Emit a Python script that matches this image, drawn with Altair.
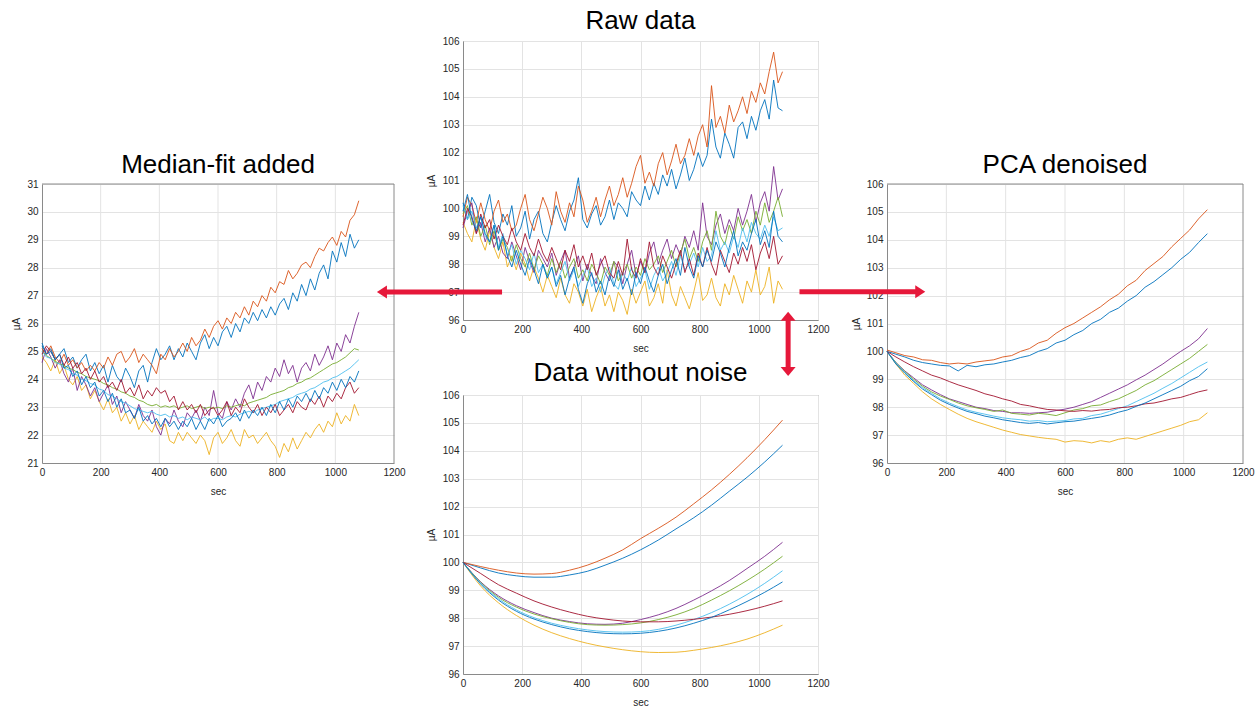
import altair as alt
import pandas as pd

SERIES = ["s1", "s2", "s3", "s4", "s5", "s6", "s7", "s8"]
COLORS = ["#0072BD", "#D95319", "#EDB120", "#7E2F8E", "#77AC30", "#4DBEEE", "#A2142F", "#0072BD"]
ARROW = "#E6183A"
BOX = "#8a8a8a"
GRID = "#e3e3e3"
X_TICKS = [0, 200, 400, 600, 800, 1000, 1200]
X_GRID = [200, 400, 600, 800, 1000]
Y_TICKS_UA = [96, 97, 98, 99, 100, 101, 102, 103, 104, 105, 106]
Y_TICKS_MED = [21, 22, 23, 24, 25, 26, 27, 28, 29, 30, 31]

# ---------------- Raw data (sampled every 15 s) ----------------
raw_s1 = [100.2, 99.6, 100.4, 100.1, 99.3, 99.9, 100.5, 99.5, 99.1, 99.8, 99.4, 100.1, 99.0, 99.3, 99.9, 98.9, 99.6, 99.9, 99.1, 98.8, 99.5, 100.1, 99.6, 99.2, 99.9, 100.3, 101.1, 99.6, 99.3, 99.8, 100.1, 99.4, 99.7, 100.3, 99.6, 100.2, 100.0, 99.7, 100.6, 100.3, 100.1, 100.8, 100.3, 100.9, 100.5, 101.2, 100.8, 101.4, 100.7, 101.2, 101.8, 101.0, 101.4, 102.0, 101.5, 101.9, 103.2, 102.2, 101.8, 102.7, 102.3, 101.8, 102.9, 103.1, 102.5, 103.3, 102.8, 103.5, 103.9, 103.2, 104.6, 103.6, 103.5]
raw_s2 = [99.7, 100.4, 100.1, 99.5, 100.2, 99.6, 99.2, 99.9, 100.3, 99.5, 99.8, 99.2, 99.4, 100.0, 100.5, 99.6, 99.2, 99.8, 100.4, 100.0, 99.4, 100.6, 99.9, 99.5, 100.2, 99.7, 100.8, 100.3, 99.5, 99.9, 100.4, 99.7, 100.3, 100.8, 100.1, 100.5, 101.1, 100.4, 100.9, 101.5, 101.9, 100.9, 101.3, 100.8, 101.6, 102.0, 101.2, 101.7, 102.3, 101.6, 101.9, 102.5, 101.9, 102.6, 103.0, 102.2, 104.4, 102.9, 103.3, 102.7, 103.7, 103.1, 103.5, 104.0, 103.4, 104.2, 103.8, 104.5, 104.1, 104.9, 105.6, 104.5, 104.9]
raw_s3 = [99.5, 99.1, 98.8, 99.6, 98.9, 98.5, 99.2, 98.6, 98.2, 98.8, 97.9, 98.3, 97.8, 98.4, 98.0, 97.4, 97.9, 97.5, 97.0, 97.6, 97.2, 96.8, 97.5, 96.9, 96.6, 97.3, 97.0, 96.5, 97.1, 96.3, 96.8, 97.2, 96.5, 96.9, 96.3, 97.0, 96.7, 96.2, 97.1, 96.6, 97.0, 97.4, 96.5, 96.8, 97.3, 96.6, 97.8, 96.9, 96.5, 97.2, 96.8, 96.4, 97.0, 97.7, 96.7, 96.9, 97.5, 96.8, 96.5, 97.3, 96.9, 97.6, 97.1, 96.6, 97.4, 97.0, 97.8, 96.9, 97.2, 97.9, 96.6, 97.4, 97.1]
raw_s4 = [99.3, 99.9, 100.2, 99.1, 99.5, 98.8, 99.3, 98.6, 99.0, 98.4, 98.2, 98.8, 98.3, 97.8, 98.6, 98.1, 97.7, 98.5, 98.2, 97.9, 98.4, 97.6, 98.1, 98.5, 97.5, 97.9, 98.3, 97.4, 98.0, 97.6, 97.3, 98.2, 97.7, 97.4, 98.1, 97.9, 97.3, 98.0, 98.5, 97.6, 98.1, 97.7, 98.4, 98.8, 98.0, 98.5, 98.9, 98.2, 98.7, 98.3, 99.0, 98.6, 99.2, 98.5, 100.2, 99.0, 98.7, 99.4, 99.8, 99.1, 99.6, 99.2, 100.0, 99.4, 99.9, 100.5, 99.5, 100.2, 100.6, 99.9, 101.5, 100.3, 100.7]
raw_s5 = [99.8, 100.1, 99.4, 99.7, 99.0, 99.4, 98.7, 99.2, 98.5, 98.9, 98.6, 98.1, 98.7, 98.2, 97.9, 98.4, 97.8, 98.3, 98.0, 97.6, 98.2, 97.7, 98.1, 97.5, 97.9, 98.2, 97.5, 97.8, 97.4, 98.0, 97.7, 97.3, 97.9, 97.6, 98.1, 97.4, 97.7, 98.0, 97.5, 97.9, 97.6, 98.2, 97.8, 98.0, 98.3, 97.7, 98.1, 98.5, 97.9, 98.4, 98.9, 98.2, 98.6, 98.1, 98.8, 99.2, 98.5, 99.9, 99.0, 98.7, 99.4, 98.9, 99.7, 99.2, 99.6, 99.1, 99.9, 99.4, 100.2, 99.5, 99.9, 100.4, 99.7]
raw_s6 = [100.1, 99.6, 99.9, 99.3, 99.7, 99.0, 98.8, 99.4, 98.6, 99.1, 98.3, 98.7, 98.0, 98.5, 98.2, 97.8, 98.4, 97.7, 98.0, 97.5, 97.9, 97.3, 97.7, 98.1, 97.4, 97.8, 97.2, 97.6, 97.9, 97.2, 97.5, 97.0, 97.6, 97.9, 97.3, 97.1, 97.7, 97.4, 97.9, 97.2, 97.5, 97.8, 97.1, 97.6, 97.9, 97.4, 97.7, 98.1, 97.6, 98.3, 97.8, 98.0, 98.4, 97.9, 98.6, 98.1, 98.3, 99.2, 98.5, 98.8, 98.4, 99.0, 98.6, 99.3, 98.8, 99.5, 99.1, 98.9, 99.4, 99.0, 99.7, 99.2, 99.3]
raw_s7 = [99.4, 100.0, 99.7, 99.1, 99.8, 99.3, 99.6, 98.9, 99.4, 99.0, 98.7, 99.3, 98.8, 98.5, 99.1, 98.6, 98.3, 98.9, 98.4, 98.1, 98.6, 98.2, 97.8, 98.5, 98.1, 98.7, 97.9, 98.3, 97.8, 98.4, 97.6, 98.0, 98.3, 97.7, 97.5, 98.1, 97.6, 98.9, 97.8, 97.5, 98.2, 97.7, 98.8, 97.9, 97.6, 98.3, 97.9, 97.5, 98.0, 98.5, 97.7, 98.2, 97.6, 98.4, 97.9, 98.6, 98.0, 97.6, 98.5, 98.1, 97.7, 98.4, 98.0, 98.6, 98.1, 98.7, 97.8, 98.4, 98.8, 98.2, 99.0, 98.0, 98.3]
raw_s8 = [99.9, 100.5, 99.6, 99.2, 99.7, 99.1, 98.8, 99.4, 98.5, 99.0, 98.3, 97.9, 98.5, 98.0, 97.6, 98.2, 97.8, 97.3, 98.0, 97.5, 97.9, 97.2, 97.6, 96.9, 97.5, 97.9, 97.1, 96.6, 97.3, 97.7, 97.0, 97.4, 96.9, 97.6, 97.2, 97.8, 97.1, 97.5, 96.9, 97.7, 97.3, 97.9, 97.4, 97.0, 97.6, 98.0, 97.3, 97.8, 98.2, 97.6, 98.6, 97.9, 97.5, 98.3, 97.9, 98.5, 98.1, 98.8, 98.4, 97.9, 98.6, 99.2, 98.3, 98.8, 98.5, 99.1, 99.6, 98.7, 99.2, 98.6, 99.9, 99.0, 98.8]

# ---------------- Median-fit added (sampled every 15 s) ----------------
med_s1 = [25.3, 24.9, 25.1, 24.7, 24.9, 25.1, 24.6, 24.8, 24.4, 24.7, 24.9, 24.3, 24.6, 24.2, 24.5, 23.9, 24.5, 24.1, 23.9, 24.4, 24.1, 23.7, 24.3, 24.5, 23.9, 24.6, 25.1, 24.7, 24.9, 25.2, 24.7, 25.1, 24.8, 25.3, 25.0, 24.7, 25.3, 25.6, 25.1, 25.5, 25.2, 25.7, 25.9, 25.5, 26.0, 25.7, 26.2, 26.0, 26.4, 26.1, 26.5, 26.2, 26.6, 26.3, 26.7, 26.9, 26.5, 27.1, 26.8, 27.4, 27.0, 27.6, 27.2, 27.8, 28.1, 27.6, 28.6, 28.2, 28.9, 28.4, 29.2, 28.7, 29.0]
med_s2 = [25.1, 24.9, 25.2, 24.8, 24.6, 24.9, 24.5, 24.7, 24.4, 24.6, 24.3, 24.5, 24.3, 24.6, 24.4, 24.8, 24.5, 24.9, 25.0, 24.6, 24.8, 25.1, 24.6, 24.9, 24.7, 24.5, 24.2, 24.9, 24.7, 25.1, 24.8, 25.0, 25.3, 25.0, 25.5, 25.2, 25.4, 25.8, 25.5, 25.9, 26.1, 25.8, 26.2, 26.0, 26.4, 26.2, 26.6, 26.3, 26.8, 26.6, 27.0, 26.8, 27.3, 27.1, 27.5, 27.4, 27.9, 27.6, 27.8, 28.1, 28.2, 28.0, 28.4, 28.7, 28.6, 28.9, 29.1, 28.8, 29.3, 29.1, 29.7, 29.9, 30.4]
med_s3 = [24.8, 24.6, 24.3, 24.7, 24.2, 24.5, 24.0, 23.8, 24.1, 23.6, 23.8, 23.3, 23.6, 23.2, 22.9, 23.3, 22.8, 23.0, 22.5, 22.8, 22.4, 22.7, 22.2, 22.5, 22.3, 22.1, 22.5, 22.2, 22.4, 21.8, 21.7, 22.1, 21.8, 22.1, 21.9, 21.7, 22.0, 21.8, 21.3, 21.9, 22.1, 21.7, 21.9, 22.2, 21.8, 21.6, 22.2, 21.9, 22.0, 21.7, 21.9, 22.1, 21.8, 21.6, 21.2, 21.7, 21.4, 21.9, 21.5, 21.8, 22.1, 21.9, 22.2, 22.4, 22.1, 22.5, 22.3, 22.8, 22.4, 22.7, 22.5, 23.1, 22.7]
med_s4 = [24.6, 25.1, 24.8, 24.4, 24.7, 24.2, 23.9, 24.4, 23.6, 24.1, 23.8, 23.4, 23.7, 23.2, 23.5, 23.8, 23.1, 23.4, 22.8, 23.2, 22.9, 22.6, 23.1, 22.7, 22.5, 22.9, 22.3, 22.0, 22.6, 22.4, 22.9, 22.5, 22.3, 22.8, 22.6, 22.9, 22.5, 23.0, 22.7, 23.6, 22.8, 22.6, 23.2, 22.9, 23.3, 23.0, 23.5, 23.8, 23.3, 23.9, 23.6, 24.1, 23.9, 24.4, 24.1, 24.7, 24.2, 24.5, 23.9, 24.4, 24.6, 24.3, 24.9, 24.5, 24.8, 25.2, 24.7, 25.3, 25.0, 25.6, 25.3, 25.9, 26.4]
med_s5 = [25.0, 24.85, 24.75, 24.65, 24.55, 24.5, 24.4, 24.35, 24.25, 24.2, 24.1, 24.05, 24.0, 23.95, 23.85, 23.8, 23.7, 23.65, 23.55, 23.5, 23.4, 23.35, 23.25, 23.2, 23.1, 23.05, 23.1, 23.0, 23.05, 23.0, 23.05, 22.95, 23.0, 23.05, 22.95, 23.0, 23.05, 22.95, 23.0, 22.95, 23.0, 22.95, 23.05, 23.0, 23.05, 23.1, 23.05, 23.15, 23.2, 23.25, 23.3, 23.35, 23.45, 23.5, 23.55, 23.6, 23.7, 23.75, 23.85, 23.9, 24.0, 24.05, 24.15, 24.25, 24.35, 24.45, 24.55, 24.6, 24.7, 24.8, 24.95, 25.1, 25.05]
med_s6 = [25.0, 24.8, 24.75, 24.6, 24.55, 24.4, 24.35, 24.2, 24.15, 24.0, 23.95, 23.85, 23.8, 23.65, 23.6, 23.45, 23.4, 23.3, 23.2, 23.15, 23.05, 22.95, 22.9, 22.85, 22.8, 22.85, 22.75, 22.7, 22.75, 22.65, 22.7, 22.6, 22.65, 22.55, 22.65, 22.6, 22.55, 22.65, 22.5, 22.6, 22.6, 22.55, 22.65, 22.7, 22.65, 22.75, 22.8, 22.85, 22.8, 22.9, 22.95, 23.0, 23.05, 23.1, 23.2, 23.25, 23.3, 23.35, 23.45, 23.5, 23.55, 23.65, 23.7, 23.8, 23.9, 23.95, 24.05, 24.1, 24.2, 24.3, 24.4, 24.55, 24.7]
med_s7 = [24.9, 25.2, 25.0, 24.7, 24.9, 24.5, 24.8, 24.4, 24.6, 24.2, 24.4, 24.0, 24.3, 23.9, 24.1, 23.7, 23.9, 23.6, 24.0, 23.5, 23.7, 23.4, 23.8, 23.3, 23.6, 23.4, 23.7, 23.5, 23.6, 23.2, 23.4, 22.9, 23.2, 22.9, 23.1, 22.8, 23.1, 22.7, 22.9, 23.0, 22.7, 22.9, 23.2, 22.7, 23.0, 22.8, 23.3, 23.0, 22.8, 23.1, 22.7, 23.0, 22.8, 23.1, 22.7, 22.9, 23.1, 22.8, 23.2, 23.0, 22.9, 23.3, 23.1, 23.4, 23.0, 23.4, 23.2, 23.5, 23.3, 23.7, 23.9, 23.5, 23.7]
med_s8 = [25.2, 24.9, 25.0, 24.7, 24.9, 24.4, 24.5, 24.1, 24.3, 23.8, 24.1, 23.7, 23.9, 23.4, 23.6, 23.2, 23.5, 23.0, 23.3, 22.8, 22.9, 22.6, 23.0, 22.5, 22.7, 22.4, 22.6, 22.3, 22.6, 22.3, 22.5, 22.2, 22.5, 22.3, 22.6, 22.2, 22.5, 22.2, 22.6, 22.4, 22.7, 22.3, 22.5, 22.6, 22.8, 22.5, 22.9, 22.6, 22.9, 22.7, 23.0, 22.7, 23.1, 22.8, 23.2, 22.9, 23.3, 23.0, 23.4, 23.2, 23.5, 23.2, 23.6, 23.3, 23.7, 23.5, 23.9, 23.6, 24.0, 23.7, 24.1, 23.9, 24.3]

# ---------------- PCA denoised (sampled every 30 s) ----------------
pca_s1 = [100.0, 99.9, 99.8, 99.68, 99.6, 99.55, 99.5, 99.48, 99.3, 99.5, 99.45, 99.52, 99.55, 99.62, 99.68, 99.78, 99.85, 100.0, 100.1, 100.3, 100.4, 100.6, 100.75, 101.0, 101.15, 101.4, 101.55, 101.8, 102.0, 102.3, 102.5, 102.75, 103.0, 103.3, 103.55, 103.9, 104.22]
pca_s2 = [100.05, 99.95, 99.85, 99.8, 99.7, 99.68, 99.6, 99.55, 99.58, 99.55, 99.62, 99.66, 99.7, 99.8, 99.85, 100.0, 100.1, 100.3, 100.4, 100.65, 100.85, 101.0, 101.2, 101.4, 101.6, 101.85, 102.05, 102.35, 102.55, 102.9, 103.15, 103.4, 103.75, 104.05, 104.35, 104.75, 105.08]
pca_s3 = [100.0, 99.55, 99.15, 98.85, 98.55, 98.3, 98.1, 97.92, 97.75, 97.6, 97.48, 97.38, 97.28, 97.18, 97.1, 97.02, 96.97, 96.92, 96.88, 96.85, 96.75, 96.8, 96.78, 96.72, 96.8, 96.75, 96.85, 96.9, 96.85, 96.95, 97.05, 97.15, 97.25, 97.35, 97.48, 97.55, 97.8]
pca_s4 = [100.0, 99.6, 99.3, 99.05, 98.8, 98.62, 98.45, 98.3, 98.2, 98.1, 98.0, 97.95, 97.88, 97.85, 97.8, 97.8, 97.78, 97.8, 97.82, 97.88, 97.93, 98.0, 98.1, 98.2, 98.35, 98.5, 98.65, 98.8, 98.98, 99.15, 99.35, 99.55, 99.78, 100.0, 100.2, 100.45, 100.82]
pca_s5 = [100.0, 99.6, 99.28, 99.0, 98.75, 98.55, 98.4, 98.28, 98.15, 98.05, 97.98, 97.92, 97.85, 97.9, 97.78, 97.75, 97.72, 97.78, 97.75, 97.7, 97.8, 97.9, 97.95, 98.05, 98.08, 98.2, 98.3, 98.45, 98.6, 98.8, 98.95, 99.15, 99.35, 99.55, 99.75, 100.0, 100.25]
pca_s6 = [100.0, 99.58, 99.25, 98.95, 98.7, 98.5, 98.3, 98.15, 98.02, 97.9, 97.82, 97.75, 97.68, 97.62, 97.58, 97.55, 97.5, 97.52, 97.48, 97.5, 97.52, 97.58, 97.6, 97.7, 97.75, 97.85, 97.95, 98.05, 98.2, 98.35, 98.5, 98.68, 98.85, 99.05, 99.25, 99.45, 99.62]
pca_s7 = [100.0, 99.8, 99.62, 99.45, 99.3, 99.15, 99.05, 98.92, 98.8, 98.7, 98.6, 98.48, 98.4, 98.3, 98.22, 98.1, 98.05, 97.98, 97.92, 97.9, 97.87, 97.85, 97.88, 97.86, 97.9, 97.92, 97.98, 98.0, 98.05, 98.12, 98.15, 98.22, 98.3, 98.35, 98.45, 98.55, 98.62]
pca_s8 = [100.0, 99.55, 99.22, 98.92, 98.65, 98.45, 98.25, 98.1, 97.97, 97.85, 97.77, 97.68, 97.62, 97.55, 97.5, 97.45, 97.42, 97.45, 97.4, 97.44, 97.48, 97.5, 97.55, 97.6, 97.65, 97.72, 97.82, 97.9, 98.03, 98.15, 98.3, 98.45, 98.6, 98.75, 98.95, 99.1, 99.38]

# ---------------- Data without noise (sampled every 60 s) ----------------
nn_s1 = [100.0, 99.8, 99.62, 99.52, 99.47, 99.47, 99.55, 99.68, 99.9, 100.15, 100.45, 100.8, 101.2, 101.6, 102.05, 102.55, 103.05, 103.6, 104.2]
nn_s2 = [100.0, 99.85, 99.72, 99.62, 99.58, 99.6, 99.72, 99.9, 100.15, 100.45, 100.85, 101.22, 101.62, 102.1, 102.6, 103.15, 103.75, 104.4, 105.1]
nn_s3 = [100.0, 99.15, 98.55, 98.1, 97.75, 97.48, 97.27, 97.1, 96.97, 96.87, 96.8, 96.77, 96.78, 96.85, 96.95, 97.08, 97.25, 97.48, 97.75]
nn_s4 = [100.0, 99.3, 98.8, 98.45, 98.2, 98.0, 97.88, 97.8, 97.78, 97.82, 97.95, 98.12, 98.35, 98.65, 98.98, 99.35, 99.78, 100.22, 100.72]
nn_s5 = [100.0, 99.28, 98.75, 98.4, 98.15, 97.98, 97.85, 97.77, 97.75, 97.77, 97.83, 97.95, 98.12, 98.35, 98.65, 98.98, 99.35, 99.76, 100.22]
nn_s6 = [100.0, 99.25, 98.7, 98.3, 98.02, 97.82, 97.68, 97.58, 97.52, 97.5, 97.52, 97.6, 97.75, 97.95, 98.2, 98.5, 98.85, 99.25, 99.7]
nn_s7 = [100.0, 99.6, 99.2, 98.9, 98.62, 98.4, 98.22, 98.07, 97.97, 97.9, 97.87, 97.87, 97.9, 97.96, 98.04, 98.14, 98.27, 98.43, 98.62]
nn_s8 = [100.0, 99.22, 98.65, 98.25, 97.97, 97.77, 97.62, 97.52, 97.46, 97.44, 97.46, 97.53, 97.65, 97.82, 98.03, 98.3, 98.6, 98.93, 99.3]

# ---------------- Arrows (in data units of the panel they are drawn in) ----------------
raw_shaft_t = [132, 1099]
raw_shaft_t2 = [-264, 1099]
raw_shaft_v = [97.0, 96.03]
raw_shaft_v2 = [97.0, 94.28]
raw_head_t = [-291, 1099, 1099]
raw_head_v = [97.0, 96.30, 93.99]
raw_head_dir = ["left", "up", "down"]
pca_shaft_t = [-295]
pca_shaft_t2 = [99]
pca_shaft_v = [102.14]
pca_shaft_v2 = [102.14]
pca_head_t = [129]
pca_head_v = [102.14]
pca_head_dir = ["right"]

HEAD_PATHS = {
    "left": "M0,0 L1,-0.65 L1,0.65 Z",
    "right": "M0,0 L-1,-0.65 L-1,0.65 Z",
    "up": "M0,0 L-0.75,0.9 L0.75,0.9 Z",
    "down": "M0,0 L-0.75,-0.9 L0.75,-0.9 Z",
}

UA = [96, 106]
MED = [21, 31]
W1, W2, W3, H = 352, 355, 356, 279
DROP = 143           # vertical offset of the side panels below the Raw-data panel
ROW_GAP, COL_GAP = 75, 69
SIDE_RANGE = [H + DROP, DROP]


def long_df(lists, step):
    rows = []
    for name, vals in zip(SERIES, lists):
        for i, v in enumerate(vals):
            rows.append({"series": name, "t": i * step, "v": v})
    return pd.DataFrame(rows)


def enc_xy(ydom, yticks, yrange, tx):
    xs = alt.Scale(domain=[0, 1200], nice=False, zero=False)
    if yrange is None:
        ys = alt.Scale(domain=ydom, nice=False, zero=False)
    else:
        ys = alt.Scale(domain=ydom, nice=False, zero=False, range=yrange)
    x = alt.X("t:Q", scale=xs, axis=alt.Axis(values=X_TICKS, title="sec", format="d", grid=yrange is None))
    y = alt.Y("v:Q", scale=ys, axis=alt.Axis(values=yticks, title="µA", format="d", titleX=tx))
    return x, y


def lines(df, ydom, yticks, yrange, tx, interp="linear"):
    x, y = enc_xy(ydom, yticks, yrange, tx)
    return alt.Chart(df).mark_line(strokeWidth=0.9, interpolate=interp).encode(
        x=x, y=y,
        color=alt.Color("series:N", scale=alt.Scale(domain=SERIES, range=COLORS), legend=None),
    )


def vgrid(ydom, yticks, yrange, tx):
    x, y = enc_xy(ydom, yticks, yrange, tx)
    gdf = pd.DataFrame({"t": X_GRID, "v": [ydom[0]] * len(X_GRID), "v2": [ydom[1]] * len(X_GRID)})
    return alt.Chart(gdf).mark_rule(color=GRID, strokeWidth=1).encode(x=x, y=y, y2="v2:Q")


def box(ydom, yticks, yrange, tx):
    x, y = enc_xy(ydom, yticks, yrange, tx)
    bdf = pd.DataFrame({"t": [0, 1200], "t2": [1200, 1200], "v": [ydom[1], ydom[0]], "v2": [ydom[1], ydom[1]]})
    return alt.Chart(bdf).mark_rule(color=BOX, strokeWidth=1).encode(x=x, x2="t2:Q", y=y, y2="v2:Q")


def arrows(st, st2, sv, sv2, ht, hv, hd, ydom, yticks, yrange, tx):
    x, y = enc_xy(ydom, yticks, yrange, tx)
    sdf = pd.DataFrame({"t": st, "t2": st2, "v": sv, "v2": sv2})
    hdf = pd.DataFrame({"t": ht, "v": hv, "shape": [HEAD_PATHS[d] for d in hd]})
    shaft = alt.Chart(sdf).mark_rule(color=ARROW, strokeWidth=5, strokeCap="butt").encode(
        x=x, x2="t2:Q", y=y, y2="v2:Q")
    head = alt.Chart(hdf).mark_point(filled=True, size=400, opacity=1, color=ARROW, strokeWidth=0).encode(
        x=x, y=y, shape=alt.Shape("shape:N", scale=None))
    return [shaft, head]


def spacer(w, h):
    return alt.Chart(pd.DataFrame({"a": [0]})).mark_point(opacity=0).encode(
        x=alt.X("a:Q", axis=None), y=alt.Y("a:Q", axis=None)
    ).properties(width=w, height=h, view=alt.ViewBackground(stroke="transparent", strokeWidth=0))


NOVIEW = alt.ViewBackground(stroke="transparent", strokeWidth=0)
TX_MED = -21
TX_MID = -27
TX_PCA = -26

raw_df = long_df([raw_s1, raw_s2, raw_s3, raw_s4, raw_s5, raw_s6, raw_s7, raw_s8], 15)
med_df = long_df([med_s1, med_s2, med_s3, med_s4, med_s5, med_s6, med_s7, med_s8], 15)
pca_df = long_df([pca_s1, pca_s2, pca_s3, pca_s4, pca_s5, pca_s6, pca_s7, pca_s8], 30)
nn_df = long_df([nn_s1, nn_s2, nn_s3, nn_s4, nn_s5, nn_s6, nn_s7, nn_s8], 60)

median_chart = alt.layer(
    vgrid(MED, Y_TICKS_MED, SIDE_RANGE, TX_MED),
    lines(med_df, MED, Y_TICKS_MED, SIDE_RANGE, TX_MED),
    box(MED, Y_TICKS_MED, SIDE_RANGE, TX_MED),
).properties(
    title=alt.TitleParams("Median-fit added", dy=DROP - 2), width=W1, height=H + DROP, view=NOVIEW
)

raw_chart = alt.layer(
    lines(raw_df, UA, Y_TICKS_UA, None, TX_MID),
    *arrows(raw_shaft_t, raw_shaft_t2, raw_shaft_v, raw_shaft_v2, raw_head_t, raw_head_v, raw_head_dir,
            UA, Y_TICKS_UA, None, TX_MID),
).properties(title=alt.TitleParams("Raw data", offset=2), width=W2, height=H)

nn_chart = lines(nn_df, UA, Y_TICKS_UA, None, TX_MID, "monotone").properties(
    title=alt.TitleParams("Data without noise", offset=4), width=W2, height=H)

pca_chart = alt.layer(
    vgrid(UA, Y_TICKS_UA, SIDE_RANGE, TX_PCA),
    lines(pca_df, UA, Y_TICKS_UA, SIDE_RANGE, TX_PCA),
    box(UA, Y_TICKS_UA, SIDE_RANGE, TX_PCA),
    *arrows(pca_shaft_t, pca_shaft_t2, pca_shaft_v, pca_shaft_v2, pca_head_t, pca_head_v, pca_head_dir,
            UA, Y_TICKS_UA, SIDE_RANGE, TX_PCA),
).properties(
    title=alt.TitleParams("PCA denoised", dy=DROP - 2), width=W3, height=H + DROP, view=NOVIEW
)

chart = alt.concat(
    median_chart, raw_chart, pca_chart,
    spacer(W1, 1), nn_chart, spacer(W3, 1),
    columns=3, spacing={"row": ROW_GAP - DROP, "column": COL_GAP}, align="none", bounds="flush",
).properties(
    padding={"left": 11, "top": 7, "right": 5, "bottom": 5}
).configure_view(
    stroke=BOX, strokeWidth=1
).configure_axis(
    grid=True, gridColor=GRID, gridWidth=1, domain=True, domainColor=BOX, domainWidth=1, ticks=False,
    labelFont="Liberation Sans", labelFontSize=10, labelColor="#262626", labelPadding=4,
    labelFlush=False, labelOverlap=False,
    titleFont="Liberation Sans", titleFontSize=10, titleFontWeight="normal", titleColor="#262626",
).configure_axisX(
    titlePadding=9,
).configure_title(
    font="Liberation Sans", fontSize=26, fontWeight="normal", color="#000000",
    anchor="middle", frame="group", offset=0,
)

chart.save("out.html", embed_options={"renderer": "svg", "actions": False})
